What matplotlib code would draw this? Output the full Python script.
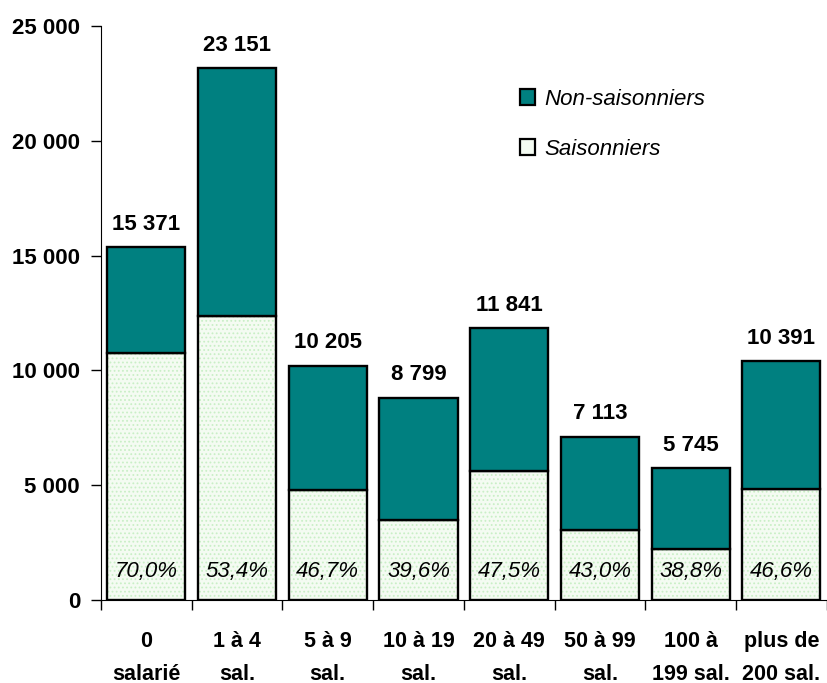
import numpy as np
import matplotlib.pyplot as plt
from matplotlib.patches import Patch

categories = ["0\nsalarié", "1 à 4\nsal.", "5 à 9\nsal.", "10 à 19\nsal.",
              "20 à 49\nsal.", "50 à 99\nsal.", "100 à\n199 sal.", "plus de\n200 sal."]
totals = [15371, 23151, 10205, 8799, 11841, 7113, 5745, 10391]
saisonniers = [10760, 12360, 4770, 3480, 5620, 3060, 2230, 4840]
pct_labels = ["70,0%", "53,4%", "46,7%", "39,6%", "47,5%", "43,0%", "38,8%", "46,6%"]

non_saisonniers = [t - s for t, s in zip(totals, saisonniers)]

plt.rcParams['font.family'] = ['Liberation Sans', 'DejaVu Sans']
plt.rcParams['hatch.linewidth'] = 0.8

TEAL = '#008080'
LIGHT = '#f4fbf2'

fig = plt.figure(figsize=(8.27, 6.83), dpi=100)
ax = fig.add_axes([0.122, 0.1215, 0.88, 0.8405])

x = np.arange(len(categories))
w = 0.86

# fond pointillé des saisonniers
ax.bar(x, saisonniers, w, color=LIGHT, edgecolor='#c9efc6', hatch='....',
       linewidth=0, zorder=2)
ax.bar(x, saisonniers, w, color='none', edgecolor='black', linewidth=1.7, zorder=3)
ax.bar(x, non_saisonniers, w, bottom=saisonniers, color=TEAL,
       edgecolor='black', linewidth=1.7, zorder=3)

for i, t in enumerate(totals):
    ax.annotate(f"{t:,}".replace(",", " "), (x[i], t), xytext=(0, 9),
                textcoords='offset points', ha='center', va='bottom',
                fontsize=16, fontweight='bold')
    ax.text(x[i], 1250, pct_labels[i], ha='center', va='center',
            fontsize=16, style='italic', zorder=4)

ax.set_xlim(-0.5, 7.52)
ax.set_ylim(0, 25000)
ax.set_yticks(range(0, 25001, 5000))
ax.set_yticklabels([f"{v:,}".replace(",", " ") for v in range(0, 25001, 5000)],
                   fontsize=16, fontweight='bold')
ax.tick_params(axis='y', length=7, width=1, pad=8)

ax.set_xticks(np.arange(-0.5, 8, 1))
ax.set_xticklabels([])
ax.tick_params(axis='x', which='major', length=7, width=1)
ax.set_xticks(x, minor=True)
ax.set_xticklabels(categories, minor=True, fontsize=15.5, fontweight='bold',
                   linespacing=1.75)
ax.tick_params(axis='x', which='minor', length=0, pad=22)

for s in ['top', 'right']:
    ax.spines[s].set_visible(False)

# légende
handles = [Patch(facecolor=TEAL, edgecolor='black', linewidth=1.6),
           Patch(facecolor=LIGHT, edgecolor='black', linewidth=1.6)]
leg = ax.legend(handles, ["Non-saisonniers", "Saisonniers"], loc='upper left',
                bbox_to_anchor=(0.548, 0.925), frameon=False, handlelength=0.7,
                handleheight=0.7, handletextpad=0.4, labelspacing=1.3,
                prop={'size': 16, 'style': 'italic'})

fig.savefig("out.png", dpi=100)
